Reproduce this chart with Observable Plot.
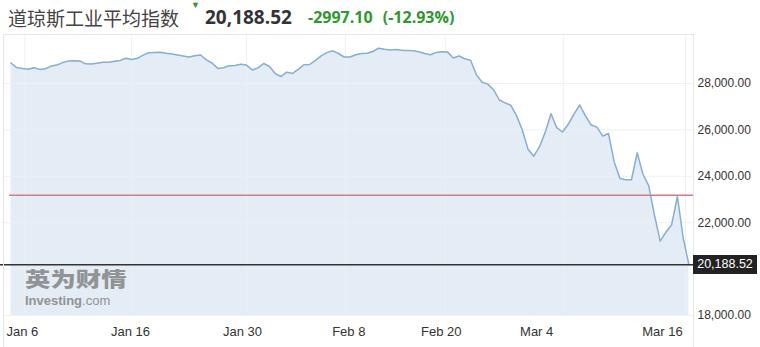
<!DOCTYPE html>
<html><head><meta charset="utf-8">
<script src="https://cdn.jsdelivr.net/npm/d3@7"></script>
<script src="https://cdn.jsdelivr.net/npm/@observablehq/plot@0.6"></script>
<style>
body{margin:0;background:#fff;font-family:"Liberation Sans",Arial,sans-serif;}
#wrap{position:relative;width:760px;height:347px;overflow:hidden;}
#head{position:absolute;left:8px;top:0;height:32px;white-space:nowrap;}
#title{position:absolute;left:0;top:4px;font-family:"Noto Sans CJK SC","Noto Sans",sans-serif;font-size:19px;color:#444;}
#tri{position:absolute;left:183px;top:0px;font-size:9px;color:#2a9a2a;}
#last{position:absolute;left:197px;top:4px;font-family:"Open Sans","Noto Sans",sans-serif;font-weight:700;font-size:19px;color:#333;}
#chg{position:absolute;left:300px;top:6px;font-family:"Open Sans","Noto Sans",sans-serif;font-weight:700;font-size:16px;color:#2a9a2a;word-spacing:6px;}
#plot{position:absolute;left:0;top:32px;}
#box{position:absolute;left:693px;width:64px;height:19px;background:#222;color:#fff;font-size:12.5px;line-height:19px;text-align:center;}
#wm1{position:absolute;left:25px;top:269px;height:20px;color:#8a8a8a;opacity:.9;font-family:"Noto Sans CJK SC",sans-serif;font-weight:900;font-size:20px;line-height:20px;transform:scaleX(1.27);transform-origin:left center;white-space:nowrap;}
#wm2{position:absolute;left:25px;top:294px;height:13px;color:#8a8a8a;opacity:.9;font-family:"Liberation Sans",Arial,sans-serif;font-size:13px;line-height:13px;white-space:nowrap;}
</style></head>
<body><div id="wrap">
<div id="head"><span id="title">道琼斯工业平均指数</span><span id="tri">▼</span><span id="last"></span><span id="chg"></span></div>
<div id="plot"></div>
<div id="wm1">英为财情</div><div id="wm2"><b>Investing</b>.com</div>
<div id="box"></div>
</div>
<script>
const titleText = "道琼斯工业平均指数";
const lastValue = 20188.52;
const changeValue = -2997.10;
const changePct = -12.93;
const prevClose = 23185.62;

// index series of the Dow Jones (Jan 6 – Mar 16, 2020)
const values = [
28884,28685,28642,28612,28681,28608,28638,28750,28793,28901,
28965,28978,28974,28849,28840,28875,28914,28918,28961,28996,
29090,29034,29086,29224,29323,29340,29349,29302,29267,29233,
29181,29138,29198,29228,29021,28884,28651,28677,28763,28780,
28828,28793,28582,28672,28862,28733,28427,28302,28491,28435,
28608,28810,28819,28996,29194,29332,29409,29293,29142,29142,
29237,29297,29302,29379,29521,29478,29448,29470,29431,29422,
29414,29366,29297,29241,29332,29366,29353,29099,29185,29065,
29004,28384,28056,27974,27733,27289,27168,27060,26616,25992,
25168,24867,25276,25905,26694,26095,25910,26242,26681,27073,
26604,26211,26121,25733,25845,24621,23905,23849,23849,25013,
24087,23599,22332,21203,21591,21914,23130,21350,20188.52];

const xLabels = ["Jan 6","Jan 16","Jan 30","Feb 8","Feb 20","Mar 4","Mar 16"];
const xLabelIdx = [2.0,20.8,40.3,58.8,74.9,91.5,113.4];
const xGridIdx = [2.4,21,41,58.2,75.6,96.2,117.4];
const yGrid = [18000,20000,22000,24000,26000,28000];
const yTickLabels = [18000,22000,24000,26000,28000];

const data = values.map((v,i)=>({i, v}));
const labelData = xLabels.map((t,k)=>({t, i:xLabelIdx[k]}));
const yMin = 17957, yMax = 30112;
const hy = s => s.replace(/\u2212/g, "-");

document.getElementById("last").textContent = d3.format(",.2f")(lastValue);
document.getElementById("chg").textContent = hy(d3.format(".2f")(changeValue) + " (" + d3.format(".2f")(changePct) + "%)");

const chart = Plot.plot({
  width: 760, height: 315,
  marginTop: 2, marginBottom: 31, marginLeft: 3, marginRight: 67,
  style: {fontFamily: '"Liberation Sans", Arial, sans-serif', fontSize: "12px", color: "#333", background: "transparent"},
  x: {domain: [-1.3, 118.8], axis: null},
  y: {domain: [yMin, yMax], axis: null},
  marks: [
    Plot.areaY(data, {x: "i", y1: yMin, y2: "v", fill: "#e4ecf5"}),
    Plot.ruleY(yGrid, {stroke: "#eef0f2", strokeWidth: 1}),
    Plot.ruleX(xGridIdx, {stroke: "#eef0f2", strokeWidth: 1}),
    Plot.lineY(data, {x: "i", y: "v", stroke: "#86aed6", strokeWidth: 1.5}),
    Plot.ruleY([prevClose], {stroke: "#d67c7c", strokeWidth: 1.5, insetLeft: 6}),
    Plot.ruleY([lastValue], {stroke: "#333", strokeWidth: 1.5, insetLeft: -3}),
    Plot.frame({stroke: "#e6e6e6", insetBottom: -40}),
    Plot.axisY({anchor: "right", ticks: yTickLabels, tickSize: 0, tickPadding: 4, tickFormat: d3.format(",.2f"), fill: "#333", fontSize: 12, label: null}),
    Plot.text(labelData, {x: "i", text: "t", frameAnchor: "bottom", dy: 19, fontSize: 13, fill: "#333"})
  ]
});
document.getElementById("plot").appendChild(chart);
const yPix = chart.scale("y").apply(lastValue);
const box = document.getElementById("box");
box.textContent = d3.format(",.2f")(lastValue);
box.style.top = (32 + yPix - 9.5) + "px";
</script>
</body></html>
